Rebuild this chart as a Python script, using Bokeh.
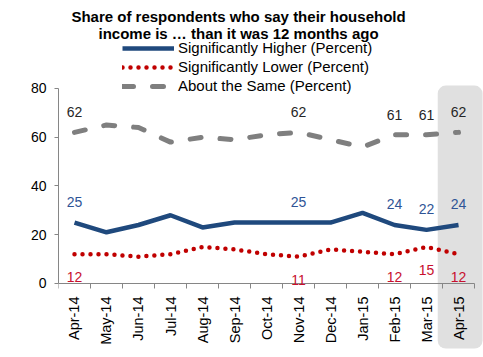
from math import pi
from bokeh.plotting import figure
from bokeh.models import (Range1d, LinearAxis, FixedTicker, Label, LabelSet,
                          ColumnDataSource, BoxAnnotation, Legend, LegendItem)
from bokeh.core.properties import value
from bokeh.embed import file_html
from bokeh.resources import INLINE

# ---- data ----
months = ["Apr-14", "May-14", "Jun-14", "Jul-14", "Aug-14", "Sep-14", "Oct-14",
          "Nov-14", "Dec-14", "Jan-15", "Feb-15", "Mar-15", "Apr-15"]
higher = [25, 21, 24, 28, 23, 25, 25, 25, 25, 29, 24, 22, 24]
lower = [12, 12, 11, 12, 15, 14, 12, 11, 14, 13, 12, 15, 12]
same = [62, 65, 64, 58, 60, 59, 61, 62, 59, 56, 61, 61, 62]
labeled_months = ["Apr-14", "Nov-14", "Feb-15", "Mar-15", "Apr-15"]
y_ticks = [0, 20, 40, 60, 80]
title_lines = ["Share of respondents who say their household",
               "income is \u2026 than it was 12 months ago"]
series_names = ["Significantly Higher (Percent)", "Significantly Lower (Percent)",
                "About the Same (Percent)"]

FONT = "Liberation Sans"
BLUE = "#1F497D"
RED = "#C00000"
GRAY = "#7F7F7F"
AXIS = "#868686"

xs = list(range(len(months)))

p = figure(width=483, height=350, output_backend="svg", toolbar_location=None,
           x_range=Range1d(-0.5, 12.78), y_range=Range1d(-27.49, 116.10),
           x_axis_type=None, y_axis_type=None,
           min_border_left=58, min_border_right=0, min_border_top=0,
           min_border_bottom=0)
p.outline_line_color = None
p.xgrid.visible = False
p.ygrid.visible = False

# highlight box for latest month
box = BoxAnnotation(left=11.35, right=12.75, top=81.2, bottom=-26.67,
                    fill_color="#E0E0E0", fill_alpha=1, line_color=None,
                    border_radius=8, level="underlay")
p.add_layout(box)

# axes
xaxis = LinearAxis(ticker=FixedTicker(ticks=xs, minor_ticks=[i - 0.5 for i in range(len(months) + 1)]),
                   fixed_location=0, bounds=(-0.5, 12.5),
                   major_label_overrides={i: m for i, m in enumerate(months)},
                   major_label_orientation=pi / 2,
                   major_tick_out=0, major_tick_in=0,
                   minor_tick_out=5, minor_tick_in=0,
                   minor_tick_line_color=AXIS, axis_line_color=AXIS,
                   major_label_standoff=8,
                   major_label_text_font=FONT, major_label_text_font_size="14.5px",
                   major_label_text_color="#000000")
p.add_layout(xaxis, "below")

yaxis = LinearAxis(ticker=FixedTicker(ticks=y_ticks, minor_ticks=[]), bounds=(0, 80),
                   major_tick_out=4, major_tick_in=0,
                   major_tick_line_color=AXIS, axis_line_color=AXIS,
                   minor_tick_out=0, minor_tick_in=0,
                   major_label_standoff=8,
                   major_label_text_font=FONT, major_label_text_font_size="14px",
                   major_label_text_color="#000000")
p.add_layout(yaxis, "left")

# lines
r_same = p.line(xs, same, line_color=GRAY, line_width=5, line_dash="11 19", line_cap="round")
r_lower = p.line(xs, lower, line_color=RED, line_width=4.5, line_dash="0 8", line_cap="round")
r_higher = p.line(xs, higher, line_color=BLUE, line_width=4.5)

# data labels
idx = [months.index(m) for m in labeled_months]
def add_labels(vals, color, offset):
    src = ColumnDataSource(dict(x=[xs[i] for i in idx], y=[vals[i] for i in idx],
                                t=[str(vals[i]) for i in idx]))
    p.add_layout(LabelSet(x="x", y="y", text="t", source=src, y_offset=offset,
                          text_align="center", text_baseline="middle",
                          text_font=value(FONT), text_font_size=value("14px"),
                          text_color=value(color)))

add_labels(same, "#262626", 20)
add_labels(higher, "#2F5496", 21)
add_labels(lower, "#C8102E", -23)

# title
for txt, yv in zip(title_lines, [109.5, 102.6]):
    p.add_layout(Label(x=5.125, y=yv, text=txt, text_align="center", text_baseline="middle",
                       text_font=FONT, text_font_size="15px", text_font_style="bold",
                       text_color="#000000"))

# y axis title
p.add_layout(Label(x=-1.84, y=41.85, text="(Percent)", angle=pi / 2,
                   text_align="center", text_baseline="middle",
                   text_font=FONT, text_font_size="15px", text_color="#000000"))

legend = Legend(items=[LegendItem(label=series_names[0], renderers=[r_higher]),
                       LegendItem(label=series_names[1], renderers=[r_lower]),
                       LegendItem(label=series_names[2], renderers=[r_same])],
                location=(64, 256), orientation="vertical",
                glyph_width=52, glyph_height=16, label_height=16, spacing=2,
                padding=0, margin=0, label_standoff=4,
                border_line_color=None, background_fill_alpha=0,
                label_text_font=FONT, label_text_font_size="15px",
                label_text_color="#000000")
p.add_layout(legend)

open("out.html", "w").write(file_html(p, INLINE))
